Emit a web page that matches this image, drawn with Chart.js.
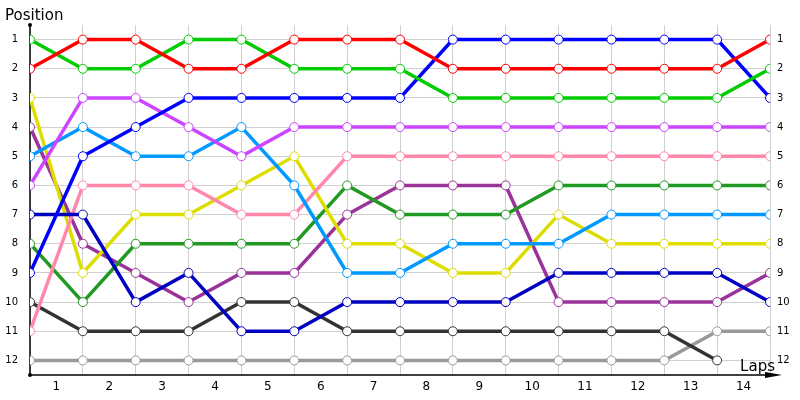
<!DOCTYPE html>
<html>
<head>
<meta charset="utf-8">
<script src="https://cdn.jsdelivr.net/npm/chart.js@4"></script>
<style>body{margin:0;background:#fff}</style>
</head>
<body>
<canvas id="myChart" width="800" height="400"></canvas>
<script>
// lap labels sit between the grid lines, points sit on them (0 = start)
var lapLabels = ["1", "2", "3", "4", "5", "6", "7", "8", "9", "10", "11", "12", "13", "14"];
var positionLabels = ["1", "2", "3", "4", "5", "6", "7", "8", "9", "10", "11", "12"];

// positions per driver, one value per grid line (start + 14 laps)
var red       = [2, 1, 1, 2, 2, 1, 1, 1, 2, 2, 2, 2, 2, 2, 1];
var lime      = [1, 2, 2, 1, 1, 2, 2, 2, 3, 3, 3, 3, 3, 3, 2];
var blue      = [9, 5, 4, 3, 3, 3, 3, 3, 1, 1, 1, 1, 1, 1, 3];
var navy      = [7, 7, 10, 9, 11, 11, 10, 10, 10, 10, 9, 9, 9, 9, 10];
var violet    = [6, 3, 3, 4, 5, 4, 4, 4, 4, 4, 4, 4, 4, 4, 4];
var skyBlue   = [5, 4, 5, 5, 4, 6, 9, 9, 8, 8, 8, 7, 7, 7, 7];
var pink      = [11, 6, 6, 6, 7, 7, 5, 5, 5, 5, 5, 5, 5, 5, 5];
var yellow    = [3, 9, 7, 7, 6, 5, 8, 8, 9, 9, 7, 8, 8, 8, 8];
var green     = [8, 10, 8, 8, 8, 8, 6, 7, 7, 7, 6, 6, 6, 6, 6];
var purple    = [4, 8, 9, 10, 9, 9, 7, 6, 6, 6, 10, 10, 10, 10, 9];
var darkGray  = [10, 11, 11, 11, 10, 10, 11, 11, 11, 11, 11, 11, 11, 12];
var lightGray = [12, 12, 12, 12, 12, 12, 12, 12, 12, 12, 12, 12, 12, 11, 11];

function series(values, color) {
  return {
    data: values.map(function (v, i) { return { x: i, y: v }; }),
    borderColor: color,
    backgroundColor: "#ffffff",
    pointBorderColor: color,
    pointBackgroundColor: "#ffffff",
    borderWidth: 3.5,
    pointRadius: 4.5,
    pointBorderWidth: 1,
    tension: 0,
    yAxisID: "y",
  };
}

var axisDecor = {
  id: "axisDecor",
  beforeDatasetsDraw: function (chart) {
    var c = chart.ctx, a = chart.chartArea;
    c.save();
    c.strokeStyle = "#000";
    c.lineWidth = 1.5;
    c.beginPath();
    c.moveTo(a.left, a.bottom);
    c.lineTo(a.left, a.top);
    c.moveTo(a.left, a.bottom);
    c.lineTo(a.right + 4, a.bottom);
    c.stroke();
    c.fillStyle = "#000";
    c.beginPath();
    c.moveTo(a.right + 12, a.bottom);
    c.lineTo(a.right - 5, a.bottom - 3);
    c.lineTo(a.right - 5, a.bottom + 3);
    c.closePath();
    c.fill();
    c.beginPath();
    c.arc(a.left, a.top, 2, 0, Math.PI * 2);
    c.arc(a.left, a.bottom, 2, 0, Math.PI * 2);
    c.fill();
    c.restore();
  },
  afterDraw: function (chart) {
    var c = chart.ctx, a = chart.chartArea;
    c.save();
    c.fillStyle = "#000";
    c.font = "15px 'DejaVu Sans'";
    c.textBaseline = "alphabetic";
    c.textAlign = "left";
    c.fillText("Position", a.left - 25, a.top - 5);
    c.textAlign = "right";
    c.fillText("Laps", a.right + 5, a.bottom - 4);
    c.restore();
  },
};

document.addEventListener("DOMContentLoaded", function () {
  var ctx = document.getElementById("myChart").getContext("2d");

  var data = {
    datasets: [
      series(red, "#ff0000"),
      series(lime, "#00cc00"),
      series(blue, "#0000ff"),
      series(navy, "#0000c0"),
      series(violet, "#cc44ff"),
      series(skyBlue, "#0099ff"),
      series(pink, "#ff88aa"),
      series(yellow, "#dddd00"),
      series(green, "#229922"),
      series(purple, "#993399"),
      series(darkGray, "#333333"),
      series(lightGray, "#999999"),
    ],
  };

  var options = {
    responsive: false,
    animation: false,
    layout: { padding: { top: 25 } },
    plugins: { legend: { display: false }, tooltip: { enabled: false } },
    scales: {
      x: {
        type: "linear",
        min: 0,
        max: lapLabels.length,
        afterBuildTicks: function (scale) {
          var t = [];
          for (var i = 0; i <= lapLabels.length * 2; i++) t.push({ value: i / 2 });
          scale.ticks = t;
        },
        afterFit: function (scale) { scale.height = 25; },
        border: { display: false },
        grid: {
          drawTicks: false,
          color: function (c) {
            return c.tick && Number.isInteger(c.tick.value) ? "#d0d0d0" : "rgba(0,0,0,0)";
          },
        },
        ticks: {
          autoSkip: false,
          maxRotation: 0,
          padding: 5,
          color: "#000",
          font: { family: "DejaVu Sans", size: 12 },
          callback: function (value) {
            return Number.isInteger(value) ? "" : lapLabels[Math.floor(value)];
          },
        },
      },
      y: {
        type: "linear",
        position: "left",
        reverse: true,
        min: 0.5,
        max: positionLabels.length + 0.5,
        afterBuildTicks: function (scale) {
          scale.ticks = positionLabels.map(function (p, i) { return { value: i + 1 }; });
        },
        afterFit: function (scale) { scale.width = 30; },
        border: { display: false },
        grid: { drawTicks: false, color: "#d0d0d0" },
        ticks: {
          padding: 12,
          color: "#000",
          font: { family: "DejaVu Sans", size: 10 },
          callback: function (value) { return positionLabels[value - 1]; },
        },
      },
      y2: {
        type: "linear",
        position: "right",
        reverse: true,
        min: 0.5,
        max: positionLabels.length + 0.5,
        afterBuildTicks: function (scale) {
          scale.ticks = positionLabels.map(function (p, i) { return { value: i + 1 }; });
        },
        afterFit: function (scale) { scale.width = 30; },
        border: { display: false },
        grid: { display: false, drawTicks: false },
        ticks: {
          padding: 7,
          color: "#000",
          font: { family: "DejaVu Sans", size: 10 },
          callback: function (value) { return positionLabels[value - 1]; },
        },
      },
    },
  };

  new Chart(ctx, {
    type: "line",
    data: data,
    options: options,
    plugins: [axisDecor],
  });
});
</script>
</body>
</html>
